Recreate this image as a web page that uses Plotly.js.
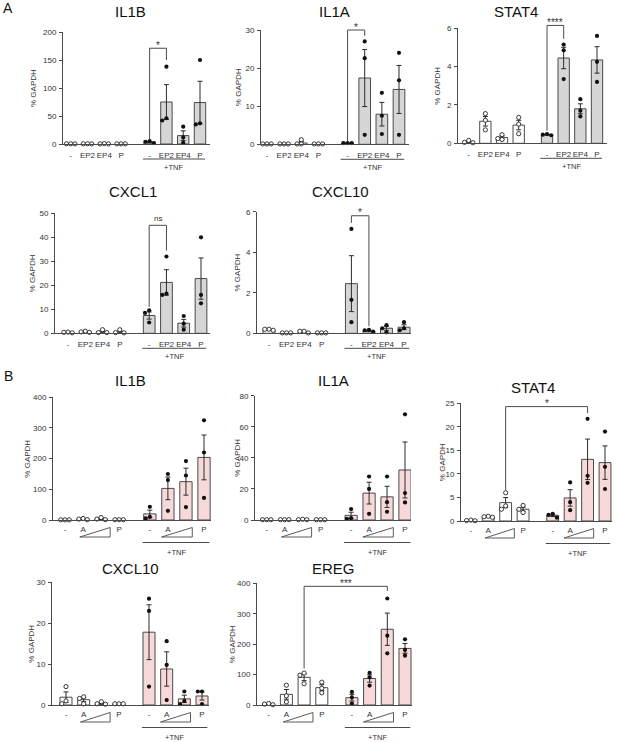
<!DOCTYPE html>
<html><head><meta charset="utf-8">
<script src="https://cdn.plot.ly/plotly-3.0.1.min.js"></script>
<style>html,body{margin:0;padding:0;background:#fff}#chart{width:617px;height:742px}</style>
</head><body><div id="chart"></div>
<script>
// ---------------- DATA (% GAPDH) ----------------
const catsA = ["-", "EP2", "EP4", "P", "-", "EP2", "EP4", "P"];
const catsB = ["-", "A", "", "P", "-", "A", "", "P"];
const geneNames = ["IL1B", "IL1A", "STAT4", "CXCL1", "CXCL10", "IL1B", "IL1A", "STAT4", "CXCL10", "EREG"];

const A_IL1B_mean = [0.3, 0.3, 0.4, 0.3, 3.3, 75, 15, 74];
const A_IL1B_sem  = [0.1, 0.1, 0.2, 0.1, 1.1, 31, 8.5, 38];
const A_IL1B_pts  = [[0.3,0.2,0.4],[0.3,0.2,0.4],[0.8,0.2,0.2],[0.3,0.3,0.3],[5,1.5,4],[138,42,46],[31,12,2],[150,35,37]];

const A_IL1A_mean = [0.1, 0.1, 0.35, 0.1, 0.3, 17.4, 7.9, 14.4];
const A_IL1A_sem  = [0.02, 0.02, 0.35, 0.02, 0.05, 7.5, 3.1, 6.3];
const A_IL1A_pts  = [[0.1,0.1,0.1],[0.1,0.1,0.1],[1.2,0.1,0.1],[0.1,0.1,0.1],[0.3,0.3,0.3],[27,22.6,2.5],[13.5,7.5,2.7],[24,16.8,2.5]];

const A_STAT4_mean = [0.07, 1.15, 0.3, 0.95, 0.45, 4.45, 1.8, 4.35];
const A_STAT4_sem  = [0.04, 0.25, 0.08, 0.25, 0.02, 0.56, 0.26, 0.69];
const A_STAT4_pts  = [[0.15,0.03,0.05],[1.55,1.2,0.7],[0.45,0.2,0.25],[1.35,1.0,0.5],[0.48,0.42,0.45],[5.15,4.85,3.35],[2.3,1.7,1.4],[5.6,4.25,3.2]];

const A_CXCL1_mean = [0.4, 0.6, 0.6, 0.6, 7.4, 21.2, 4.2, 22.8];
const A_CXCL1_sem  = [0.1, 0.15, 0.4, 0.4, 1.5, 5.3, 1.6, 8.6];
const A_CXCL1_pts  = [[0.5,0.4,0.2],[0.9,0.6,0.4],[1.5,0.3,0.3],[1.5,0.2,0.3],[9.6,8.5,4.5],[32,16,16.5],[7.2,4,1.5],[40,16,12.5]];

const A_CXCL10_mean = [0.18, 0.02, 0.07, 0.02, 2.45, 0.11, 0.25, 0.3];
const A_CXCL10_sem  = [0.02, 0.005, 0.03, 0.005, 1.38, 0.03, 0.1, 0.12];
const A_CXCL10_pts  = [[0.2,0.2,0.15],[0.02,0.02,0.02],[0.1,0.1,0.02],[0.02,0.02,0.02],[5.15,1.65,0.55],[0.17,0.08,0.15],[0.4,0.05,0.25],[0.55,0.15,0.25]];

const B_IL1B_mean = [0.5, 3, 4, 1, 20, 103, 125, 204];
const B_IL1B_sem  = [0.1, 1.2, 2.2, 0.2, 12, 37, 44, 73];
const B_IL1B_pts  = [[0.5,0.5,0.5],[5,3,1],[8,3,1],[1,1,1],[43,10,5],[150,130,30],[192,145,42],[325,220,72]];

const B_IL1A_mean = [0.2, 0.2, 0.2, 0.2, 3, 17.3, 14.9, 32.2];
const B_IL1A_sem  = [0.02, 0.02, 0.1, 0.02, 2, 7, 6.8, 18];
const B_IL1A_pts  = [[0.2,0.2,0.2],[0.2,0.2,0.2],[0.5,0.2,0.2],[0.2,0.2,0.2],[7,1.2,0.8],[28,20,4],[28,11.5,5.3],[68,17.3,11.3]];

const B_STAT4_mean = [0.1, 0.9, 3.9, 2.5, 1.2, 4.9, 13.1, 12.4];
const B_STAT4_sem  = [0.04, 0.06, 1.07, 0.43, 0.25, 1.75, 4.3, 3.55];
const B_STAT4_pts  = [[0.2,0.1,0.05],[1.0,0.8,0.9],[6.0,3.2,2.5],[3.3,2.5,1.8],[1.5,0.7,1.3],[8.2,4.0,2.3],[21.7,9.6,8.1],[19,11.5,6.8]];

const B_CXCL10_mean = [1.9, 1.3, 0.4, 0.3, 17.8, 8.8, 1.5, 2.2];
const B_CXCL10_sem  = [1.3, 0.5, 0.2, 0.02, 6.7, 4.2, 0.9, 1.0];
const B_CXCL10_pts  = [[4.5,1.0,0.3],[2.0,1.6,0.3],[0.8,0.2,0.3],[0.3,0.3,0.3],[26,23,4.5],[15.6,9.8,1.2],[3.3,1.0,0.2],[3.3,3.3,0.2]];

const B_EREG_mean = [3, 35, 91, 57, 24, 87, 249, 186];
const B_EREG_sem  = [1.2, 16, 11, 10, 11, 12, 53, 16];
const B_EREG_pts  = [[5,3,1],[65,30,10],[105,98,70],[75,55,40],[43,25,5],[106,91,64],[350,228,170],[216,181,162]];

const sigLabels = ["*", "*", "****", "ns", "*", "*", "***"];

// ---------------- LAYOUT / STYLE ----------------
const W = 617, H = 742;
const pos = [0, 1, 2, 3, 4.7, 5.7, 6.7, 7.7];
const SPAN = 7.7;
const FONT = "Liberation Sans, Arial, sans-serif";
const AX = "#4a4a4a", TXT = "#333";
const grayFill = "#d6d6d6", pinkFill = "#f8d9d9";

const panels = [
  {g:0, cats:catsA, m:A_IL1B_mean, s:A_IL1B_sem, p:A_IL1B_pts, ymax:200, dt:50, L:63, R:210, c0:70.7, c7:200, yT:32, yZ:144, tx:130, ty:12, ytx:34, fill:grayFill, row:"A", br:{a:4,b:5,top:171,lo1:8,lo2:150,lab:0}},
  {g:1, cats:catsA, m:A_IL1A_mean, s:A_IL1A_sem, p:A_IL1A_pts, ymax:30, dt:10, L:261, R:409, c0:267, c7:399, yT:30, yZ:144.3, tx:334, ty:12, ytx:238, fill:grayFill, row:"A", br:{a:4,b:5,top:30,lo1:0.7,lo2:28.5,lab:1}},
  {g:2, cats:catsA, m:A_STAT4_mean, s:A_STAT4_sem, p:A_STAT4_pts, ymax:6, dt:2, L:458, R:607, c0:468.7, c7:597, yT:28.3, yZ:143.3, tx:516, ty:12, ytx:438, fill:grayFill, row:"A", br:{a:4,b:5,top:6.15,lo1:0.65,lo2:5.45,lab:2}},
  {g:3, cats:catsA, m:A_CXCL1_mean, s:A_CXCL1_sem, p:A_CXCL1_pts, ymax:50, dt:10, L:55, R:210, c0:68, c7:201, yT:213.3, yZ:333.3, tx:133, ty:191, ytx:32, fill:grayFill, row:"A", br:{a:4,b:5,top:45,lo1:11,lo2:34.5,lab:3}},
  {g:4, cats:catsA, m:A_CXCL10_mean, s:A_CXCL10_sem, p:A_CXCL10_pts, ymax:6, dt:2, L:257, R:411, c0:269, c7:404, yT:211.7, yZ:333.3, tx:340, ty:191, ytx:237, fill:grayFill, row:"A", br:{a:4,b:5,top:5.8,lo1:5.45,lo2:0.35,lab:4}},
  {g:5, cats:catsB, m:B_IL1B_mean, s:B_IL1B_sem, p:B_IL1B_pts, ymax:400, dt:100, L:53, R:211, c0:65, c7:204, yT:397.3, yZ:520, tx:130, ty:380, ytx:28, fill:pinkFill, row:"B"},
  {g:6, cats:catsB, m:B_IL1A_mean, s:B_IL1A_sem, p:B_IL1A_pts, ymax:80, dt:20, L:255, R:411, c0:266.7, c7:405, yT:395.7, yZ:520, tx:333, ty:380, ytx:238, fill:pinkFill, row:"B"},
  {g:7, cats:catsB, m:B_STAT4_mean, s:B_STAT4_sem, p:B_STAT4_pts, ymax:25, dt:5, L:461, R:612, c0:470.8, c7:605, yT:403.3, yZ:521, tx:533, ty:387, ytx:442, fill:pinkFill, row:"B", br:{a:2,b:6,top:24.3,lo1:6.6,lo2:22.9,lab:5}},
  {g:8, cats:catsB, m:B_CXCL10_mean, s:B_CXCL10_sem, p:B_CXCL10_pts, ymax:30, dt:10, L:52, R:209, c0:66, c7:202, yT:582.3, yZ:705, tx:130, ty:568, ytx:32, fill:pinkFill, row:"B"},
  {g:9, cats:catsB, m:B_EREG_mean, s:B_EREG_sem, p:B_EREG_pts, ymax:400, dt:100, L:257, R:412, c0:268.7, c7:405, yT:583.3, yZ:705, tx:333, ty:568, ytx:232, fill:pinkFill, row:"B", br:{a:2,b:6,top:390,lo1:120,lo2:375,lab:6}}
];

const px2paperX = v => v / W;
const px2paperY = v => 1 - v / H;

const traces = [], shapes = [], annotations = [];
const layout = {
  width: W, height: H, margin: {l:0, r:0, t:0, b:0},
  paper_bgcolor: "#fff", plot_bgcolor: "rgba(0,0,0,0)",
  showlegend: false, font: {family: FONT, color: TXT, size: 8},
  shapes: shapes, annotations: annotations
};

const DOT = 4.2;

function swarmOffsets(vals, pxPerX, pxPerY) {
  const order = vals.map((v, i) => i).sort((a, b) => vals[b] - vals[a]);
  const placed = [], offs = new Array(vals.length).fill(0);
  const step = DOT / pxPerX;
  const cand = [0, -1, 1, -2, 2];
  order.forEach(i => {
    for (const c of cand) {
      const o = c * step;
      const ok = placed.every(q => {
        const dx = (o - q.o) * pxPerX, dy = (vals[i] - q.v) * pxPerY;
        return Math.sqrt(dx*dx + dy*dy) >= DOT * 0.95;
      });
      if (ok) { offs[i] = o; placed.push({o: o, v: vals[i]}); return; }
    }
    offs[i] = 0; placed.push({o: 0, v: vals[i]});
  });
  return offs;
}

panels.forEach((P, k) => {
  const n = k + 1;
  const xa = "x" + n, ya = "y" + n;
  const scale = (P.c7 - P.c0) / SPAN;             // px per x unit
  const yscale = (P.yZ - P.yT) / P.ymax;          // px per y unit
  const xmin = -(P.c0 - P.L) / scale;
  const xmax = SPAN + (P.R - P.c7) / scale;
  const X = v => px2paperX(P.c0 + v * scale);
  const Y = v => px2paperY(P.yZ - v * yscale);

  layout["xaxis" + n] = {
    domain: [P.L / W, P.R / W], range: [xmin, xmax], anchor: ya,
    showline: true, linecolor: AX, linewidth: 1, showgrid: false, zeroline: false,
    tickvals: pos, ticktext: P.cats, ticks: "", tickangle: 0, ticklabelstandoff: P.row === "A" ? 3 : 1,
    tickfont: {size: 8, color: TXT, family: FONT}, fixedrange: true
  };
  layout["yaxis" + n] = {
    domain: [1 - P.yZ / H, 1 - P.yT / H], range: [0, P.ymax], anchor: xa,
    showline: true, linecolor: AX, linewidth: 1, showgrid: false, zeroline: false,
    ticks: "outside", ticklen: 3, tickwidth: 1, tickcolor: AX, dtick: P.dt, tick0: 0,
    tickfont: {size: 8, color: TXT, family: FONT}, ticklabelstandoff: 1, fixedrange: true
  };

  // bars with mean ± SEM
  traces.push({
    type: "bar", x: pos, y: P.m, width: 0.68, xaxis: xa, yaxis: ya, cliponaxis: false,
    marker: {color: pos.map((_, i) => i < 4 ? "#ffffff" : P.fill), line: {color: AX, width: 1}},
    error_y: {type: "data", array: P.s, visible: true, color: "#2b2b2b", thickness: 1, width: 2.5},
    hoverinfo: "skip"
  });

  // individual points
  const ox = [], oy = [], fx = [], fy = [];
  P.p.forEach((vals, gi) => {
    const offs = swarmOffsets(vals, scale, yscale);
    vals.forEach((v, j) => {
      if (gi < 4) { ox.push(pos[gi] + offs[j]); oy.push(v); }
      else { fx.push(pos[gi] + offs[j]); fy.push(v); }
    });
  });
  traces.push({type: "scatter", mode: "markers", x: ox, y: oy, xaxis: xa, yaxis: ya, cliponaxis: false,
    marker: {size: DOT, color: "#ffffff", line: {color: "#222", width: 0.9}}, hoverinfo: "skip"});
  traces.push({type: "scatter", mode: "markers", x: fx, y: fy, xaxis: xa, yaxis: ya, cliponaxis: false,
    marker: {size: DOT, color: "#111"}, hoverinfo: "skip"});

  // title
  annotations.push({xref: "paper", yref: "paper", x: px2paperX(P.tx), y: px2paperY(P.ty),
    xanchor: "center", yanchor: "middle", showarrow: false, text: geneNames[P.g],
    font: {size: 15, color: "#111", family: FONT}});
  // y axis title
  annotations.push({xref: "paper", yref: "paper", x: px2paperX(P.ytx), y: px2paperY((P.yT + P.yZ) / 2),
    xanchor: "center", yanchor: "middle", showarrow: false, text: "% GAPDH", textangle: -90,
    font: {size: 8, color: TXT, family: FONT}});

  // +TNF line & label
  const lineOff = P.row === "A" ? 15 : 22.5, textOff = P.row === "A" ? 23.5 : 32;
  const lx0 = pos[4] - 0.4, lx1 = pos[7] + 0.3;
  shapes.push({type: "line", xref: "paper", yref: "paper", x0: X(lx0), x1: X(lx1),
    y0: px2paperY(P.yZ + lineOff), y1: px2paperY(P.yZ + lineOff), line: {color: AX, width: 1}});
  annotations.push({xref: "paper", yref: "paper", x: X((lx0 + lx1) / 2), y: px2paperY(P.yZ + textOff),
    xanchor: "center", yanchor: "middle", showarrow: false, text: "+TNF", font: {size: 7.5, color: TXT, family: FONT}});

  // dose triangles (panel B)
  if (P.row === "B") {
    [[pos[1] - 0.18, pos[2] + 0.5], [pos[5] - 0.35, pos[6] + 0.35]].forEach(t => {
      const yb = px2paperY(P.yZ + 17), yt = px2paperY(P.yZ + 7.5);
      shapes.push({type: "path", xref: "paper", yref: "paper",
        path: `M${X(t[0])},${yb} L${X(t[1])},${yb} L${X(t[1])},${yt} Z`,
        line: {color: AX, width: 0.9}, fillcolor: "rgba(0,0,0,0)"});
    });
  }

  // significance bracket
  if (P.br) {
    const b = P.br, xa0 = X(pos[b.a]), xb0 = X(pos[b.b]);
    shapes.push({type: "path", xref: "paper", yref: "paper",
      path: `M${xa0},${Y(b.lo1)} L${xa0},${Y(b.top)} L${xb0},${Y(b.top)} L${xb0},${Y(b.lo2)}`,
      line: {color: AX, width: 1}});
    const lab = sigLabels[b.lab];
    const topPx = P.yZ - b.top * yscale;
    const isStar = lab.indexOf("*") >= 0;
    annotations.push({xref: "paper", yref: "paper", x: (xa0 + xb0) / 2,
      y: px2paperY(isStar ? topPx - 3 : topPx - 7), xanchor: "center", yanchor: "middle",
      showarrow: false, text: lab, font: {size: isStar ? 10 : 8, color: TXT, family: FONT}});
  }
});

// panel letters
annotations.push({xref: "paper", yref: "paper", x: px2paperX(8), y: px2paperY(8), xanchor: "center", yanchor: "middle",
  showarrow: false, text: "A", font: {size: 14, color: "#111", family: FONT}});
annotations.push({xref: "paper", yref: "paper", x: px2paperX(8), y: px2paperY(376), xanchor: "center", yanchor: "middle",
  showarrow: false, text: "B", font: {size: 14, color: "#111", family: FONT}});

Plotly.newPlot("chart", traces, layout, {staticPlot: true, displayModeBar: false});
</script></body></html>
